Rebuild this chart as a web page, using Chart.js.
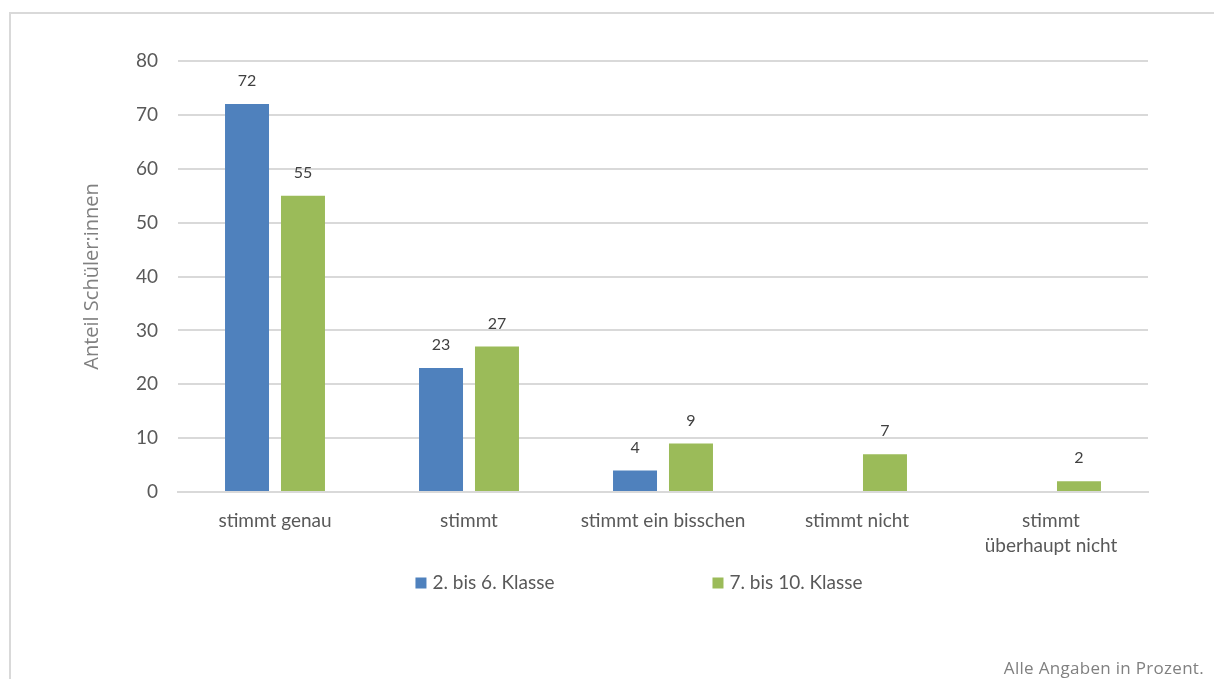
<!DOCTYPE html>
<html>
<head>
<meta charset="utf-8">
<script src="https://cdn.jsdelivr.net/npm/chart.js@4/dist/chart.umd.min.js"></script>
<style>
  html, body { margin: 0; padding: 0; background: #fff; width: 1214px; height: 679px; overflow: hidden; }
  #frame { position: absolute; left: 9px; top: 12px; width: 1205px; height: 667px;
           border-left: 2px solid #d9d9d9; border-top: 2px solid #d9d9d9; box-sizing: border-box; }
  #wrap { position: absolute; left: 0; top: 0; width: 1214px; height: 679px; }
  #note { position: absolute; right: 10px; top: 655px; font-family: "Open Sans", sans-serif;
          font-size: 17px; color: #808080; letter-spacing: 0.3px; line-height: 26px; }
</style>
</head>
<body>
<div id="frame"></div>
<div id="wrap"><canvas id="c" width="1214" height="679"></canvas></div>
<div id="note">Alle Angaben in Prozent.</div>
<script>
const categories = ["stimmt genau", "stimmt", "stimmt ein bisschen", "stimmt nicht", ["stimmt", "überhaupt nicht"]];
const seriesNames = ["2. bis 6. Klasse", "7. bis 10. Klasse"];
const klasse2bis6 = [72, 23, 4, 0, 0];
const klasse7bis10 = [55, 27, 9, 7, 2];
const yTicks = [0, 10, 20, 30, 40, 50, 60, 70, 80];

const FONT = "Lato";
const TEXT = "#595959";

const valueLabels = {
  id: "valueLabels",
  afterDatasetsDraw(chart) {
    const ctx = chart.ctx;
    ctx.save();
    ctx.font = "16px " + FONT;
    ctx.fillStyle = "#404040";
    ctx.textAlign = "center";
    ctx.textBaseline = "middle";
    chart.data.datasets.forEach((ds, di) => {
      const meta = chart.getDatasetMeta(di);
      meta.data.forEach((el, i) => {
        const v = ds.data[i];
        if (v > 0) ctx.fillText(String(v), el.x, el.y - 23);
      });
    });
    ctx.restore();
  }
};

const customLegend = {
  id: "customLegend",
  afterDraw(chart) {
    const ctx = chart.ctx;
    const area = chart.chartArea;
    ctx.save();
    ctx.font = "19px " + FONT;
    ctx.textBaseline = "middle";
    const box = 11, gapText = 6, gapItems = 158;
    const items = chart.data.datasets.map(ds => ({ label: ds.label, color: ds.backgroundColor, w: ctx.measureText(ds.label).width }));
    let total = 0;
    items.forEach((it, i) => { total += box + gapText + it.w + (i < items.length - 1 ? gapItems : 0); });
    const cy = area.bottom + 91;
    let x = (area.left + area.right) / 2 - 24 - total / 2;
    items.forEach(it => {
      ctx.fillStyle = it.color;
      ctx.fillRect(x, cy - box / 2, box, box);
      ctx.fillStyle = TEXT;
      ctx.textAlign = "left";
      ctx.fillText(it.label, x + box + gapText, cy);
      x += box + gapText + it.w + gapItems;
    });
    ctx.restore();
  }
};

new Chart(document.getElementById("c"), {
  type: "bar",
  data: {
    labels: categories,
    datasets: [
      { label: seriesNames[0], data: klasse2bis6, backgroundColor: "#4f81bd", borderWidth: 0,
        categoryPercentage: 0.577, barPercentage: 0.786 },
      { label: seriesNames[1], data: klasse7bis10, backgroundColor: "#9bbb59", borderWidth: 0,
        categoryPercentage: 0.577, barPercentage: 0.786 }
    ]
  },
  options: {
    responsive: false,
    maintainAspectRatio: false,
    animation: false,
    layout: { padding: { left: 0, top: 61, right: 66, bottom: 107 } },
    plugins: {
      legend: { display: false },
      tooltip: { enabled: false }
    },
    scales: {
      x: {
        grid: { display: false, drawTicks: false },
        border: { display: true, color: "#d9d9d9", width: 2 },
        ticks: { color: TEXT, font: { family: FONT, size: 19, lineHeight: 1.32 }, padding: 16, maxRotation: 0, autoSkip: false },
        afterFit(s) { s.height = 80; }
      },
      y: {
        min: 0, max: 80,
        afterBuildTicks(s) { s.ticks = yTicks.map(v => ({ value: v })); },
        grid: { color: "#d9d9d9", lineWidth: 2, drawTicks: false },
        border: { display: false },
        ticks: { color: TEXT, font: { family: FONT, size: 19 }, padding: 20 },
        title: { display: true, text: "Anteil Schüler:innen", color: "#808080",
                 font: { family: "Open Sans", size: 20 }, padding: { top: 80, bottom: 0 } },
        afterFit(s) { s.width = 178; }
      }
    }
  },
  plugins: [valueLabels, customLegend]
});
</script>
</body>
</html>
